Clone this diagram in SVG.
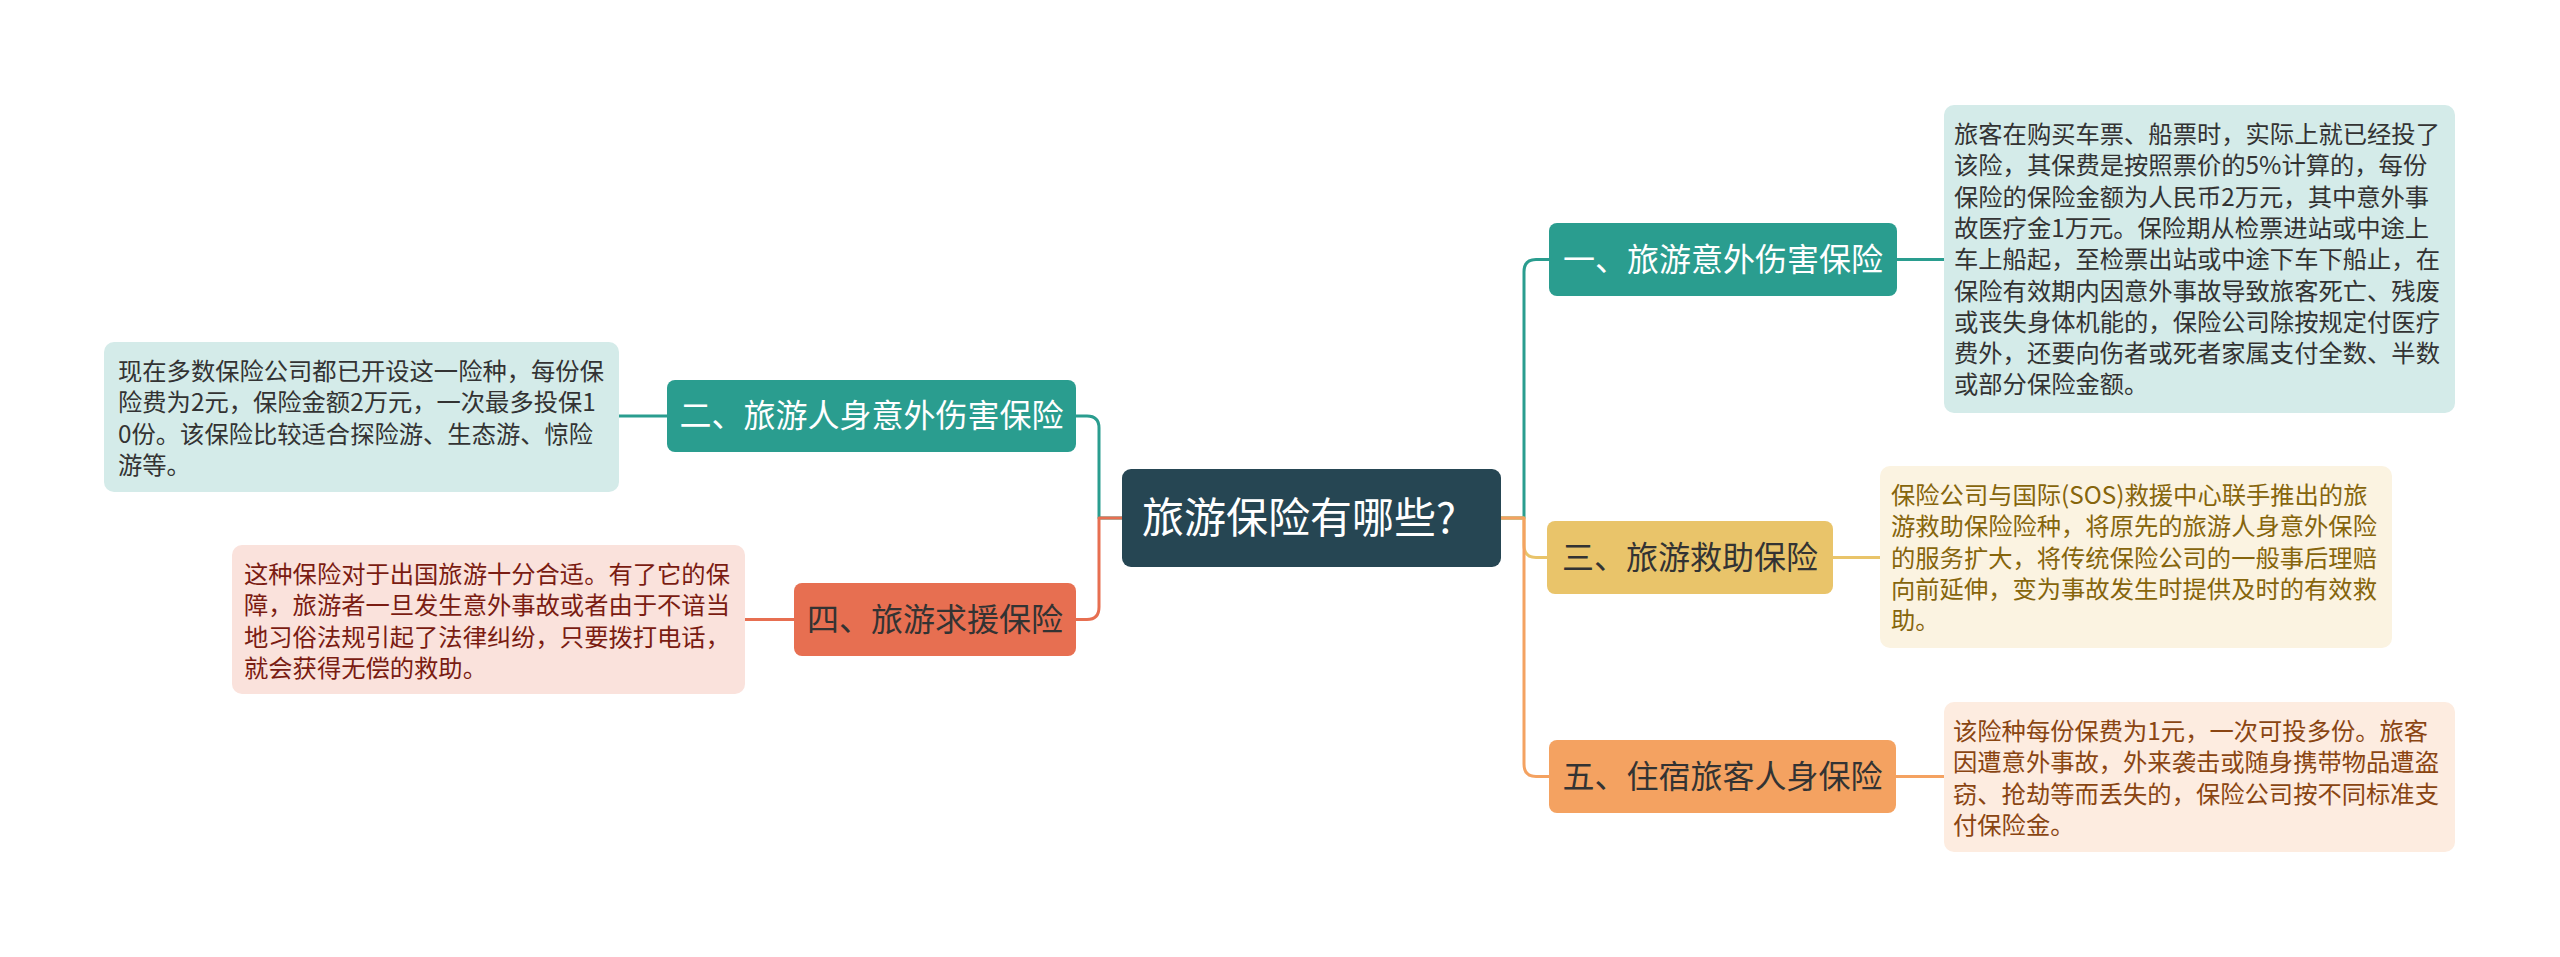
<svg xmlns="http://www.w3.org/2000/svg" width="2560" height="957" viewBox="0 0 2560 957">
<style>
text{font-family:"Noto Sans CJK SC","Noto Sans",sans-serif}
.lk{fill:none;stroke-width:3;stroke-linecap:round;stroke-linejoin:round}
.nt{font-size:32px;text-anchor:middle}
.dt{font-size:24.3px}
.t1{stroke:#2a9d8f}.t3{stroke:#e9c46a}.t5{stroke:#f4a261}.t4{stroke:#e76f51}
</style>
<rect width="2560" height="957" fill="#ffffff"/>
<g id="connectors">
<path class="lk t1" d="M1501,518 H1524 V272 Q1524,259.5 1536,259.5 H1549"/>
<path class="lk t3" d="M1501,518 H1524 V545 Q1524,557.5 1536,557.5 H1547"/>
<path class="lk t5" d="M1501,518 H1524 V764 Q1524,776.5 1536,776.5 H1549"/>
<path class="lk t1" d="M1122,518 H1099 V428 Q1099,416 1087,416 H1076"/>
<path class="lk t4" d="M1122,518 H1099 V607 Q1099,619.5 1087,619.5 H1076"/>
<path class="lk t1" d="M1897,259.5 H1944"/>
<path class="lk t3" d="M1833,557.5 H1880"/>
<path class="lk t5" d="M1896,776.5 H1944"/>
<path class="lk t1" d="M619,416 H667"/>
<path class="lk t4" d="M745,619.5 H794"/>
</g>
<g id="root">
<rect x="1122" y="469" width="379" height="98" rx="9" fill="#264653"/>
<text x="1142" y="533" font-size="42" fill="#ffffff">旅游保险有哪些?</text>
</g>
<g id="n1">
<rect x="1549" y="223" width="348" height="73" rx="8" fill="#2a9d8f"/>
<text class="nt" x="1723" y="271" fill="#ffffff">一、旅游意外伤害保险</text>
</g>
<g id="n2">
<rect x="667" y="380" width="409" height="72" rx="8" fill="#2a9d8f"/>
<text class="nt" x="871.5" y="427" fill="#ffffff">二、旅游人身意外伤害保险</text>
</g>
<g id="n3">
<rect x="1547" y="521" width="286" height="73" rx="8" fill="#e9c46a"/>
<text class="nt" x="1690" y="569" fill="#333333">三、旅游救助保险</text>
</g>
<g id="n4">
<rect x="794" y="583" width="282" height="73" rx="8" fill="#e76f51"/>
<text class="nt" x="935" y="631" fill="#333333">四、旅游求援保险</text>
</g>
<g id="n5">
<rect x="1549" y="740" width="347" height="73" rx="8" fill="#f4a261"/>
<text class="nt" x="1722.5" y="788" fill="#333333">五、住宿旅客人身保险</text>
</g>
<g id="d1">
<rect x="1944" y="105" width="511" height="308" rx="10" fill="#d4ebe9"/>
<text class="dt" x="1954" y="143" fill="#333333"><tspan x="1954">旅客在购买车票、船票时，实际上就已经投了</tspan><tspan x="1954" dy="31.3">该险，其保费是按照票价的5%计算的，每份</tspan><tspan x="1954" dy="31.3">保险的保险金额为人民币2万元，其中意外事</tspan><tspan x="1954" dy="31.3">故医疗金1万元。保险期从检票进站或中途上</tspan><tspan x="1954" dy="31.3">车上船起，至检票出站或中途下车下船止，在</tspan><tspan x="1954" dy="31.3">保险有效期内因意外事故导致旅客死亡、残废</tspan><tspan x="1954" dy="31.3">或丧失身体机能的，保险公司除按规定付医疗</tspan><tspan x="1954" dy="31.3">费外，还要向伤者或死者家属支付全数、半数</tspan><tspan x="1954" dy="31.3">或部分保险金额。</tspan></text>
</g>
<g id="d2">
<rect x="104" y="342" width="515" height="150" rx="10" fill="#d4ebe9"/>
<text class="dt" x="118" y="380" fill="#333333"><tspan x="118">现在多数保险公司都已开设这一险种，每份保</tspan><tspan x="118" dy="31.3">险费为2元，保险金额2万元，一次最多投保1</tspan><tspan x="118" dy="31.3">0份。该保险比较适合探险游、生态游、惊险</tspan><tspan x="118" dy="31.3">游等。</tspan></text>
</g>
<g id="d3">
<rect x="1880" y="466" width="512" height="182" rx="10" fill="#fbf3e1"/>
<text class="dt" x="1891" y="504" fill="#86650c"><tspan x="1891">保险公司与国际(SOS)救援中心联手推出的旅</tspan><tspan x="1891" dy="31.3">游救助保险险种，将原先的旅游人身意外保险</tspan><tspan x="1891" dy="31.3">的服务扩大，将传统保险公司的一般事后理赔</tspan><tspan x="1891" dy="31.3">向前延伸，变为事故发生时提供及时的有效救</tspan><tspan x="1891" dy="31.3">助。</tspan></text>
</g>
<g id="d4">
<rect x="232" y="545" width="513" height="149" rx="10" fill="#fae2dc"/>
<text class="dt" x="244" y="583" fill="#7a1c12"><tspan x="244">这种保险对于出国旅游十分合适。有了它的保</tspan><tspan x="244" dy="31.3">障，旅游者一旦发生意外事故或者由于不谙当</tspan><tspan x="244" dy="31.3">地习俗法规引起了法律纠纷，只要拨打电话，</tspan><tspan x="244" dy="31.3">就会获得无偿的救助。</tspan></text>
</g>
<g id="d5">
<rect x="1944" y="702" width="511" height="150" rx="10" fill="#fdece0"/>
<text class="dt" x="1953" y="740" fill="#8a4512"><tspan x="1953">该险种每份保费为1元，一次可投多份。旅客</tspan><tspan x="1953" dy="31.3">因遭意外事故，外来袭击或随身携带物品遭盗</tspan><tspan x="1953" dy="31.3">窃、抢劫等而丢失的，保险公司按不同标准支</tspan><tspan x="1953" dy="31.3">付保险金。</tspan></text>
</g>
</svg>
